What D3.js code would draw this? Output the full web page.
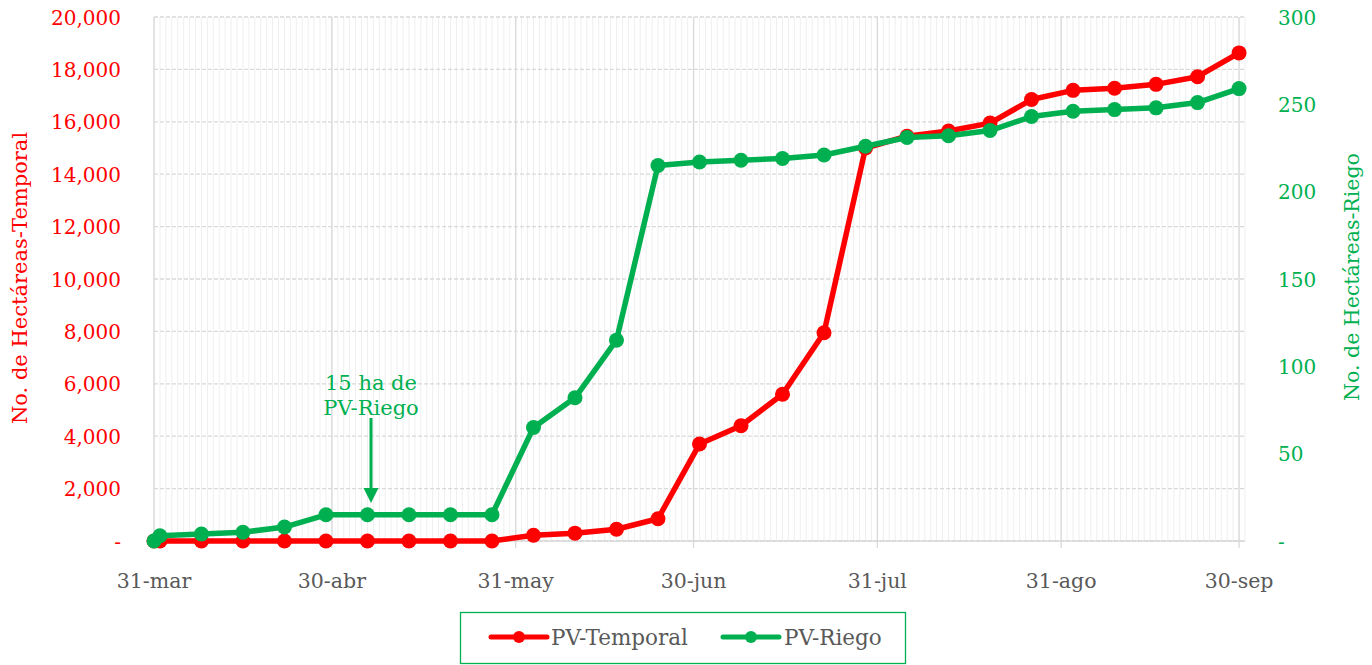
<!DOCTYPE html>
<html><head><meta charset="utf-8">
<script src="https://cdn.jsdelivr.net/npm/d3@7/dist/d3.min.js"></script>
<style>body{margin:0;background:#fff}svg{display:block}text{font-family:"DejaVu Serif",serif}</style>
</head><body>
<svg id="c" width="1372" height="665"></svg>
<script>
const dates = ["2024-03-31","2024-04-01","2024-04-08","2024-04-15","2024-04-22","2024-04-29","2024-05-06","2024-05-13","2024-05-20","2024-05-27","2024-06-03","2024-06-10","2024-06-17","2024-06-24","2024-07-01","2024-07-08","2024-07-15","2024-07-22","2024-07-29","2024-08-05","2024-08-12","2024-08-19","2024-08-26","2024-09-02","2024-09-09","2024-09-16","2024-09-23","2024-09-30"];
const temporal = [0,0,0,0,0,0,0,0,0,0,220,300,450,850,3700,4400,5600,7950,15000,15450,15650,15950,16850,17200,17280,17430,17720,18630];
const riego = [0,3,4,5,8,15,15,15,15,15,65,82,115,215,217,218,219,221,226,231,232,235,243,246,247,248,251,259];
const leftTicks = [0,2000,4000,6000,8000,10000,12000,14000,16000,18000,20000];
const rightTicks = [0,50,100,150,200,250,300];
const xTickDates = ["2024-03-31","2024-04-30","2024-05-31","2024-06-30","2024-07-31","2024-08-31","2024-09-30"];
const xTickLabels = ["31-mar","30-abr","31-may","30-jun","31-jul","31-ago","30-sep"];
const seriesNames = ["PV-Temporal","PV-Riego"];
const RED = "#FF0000", GREEN = "#00B050", GRAY = "#595959";

const parse = d3.utcParse("%Y-%m-%d");
const svg = d3.select("#c");
const L = 154, R = 1245, T = 17, B = 541;
const x = d3.scaleUtc().domain([parse("2024-03-31"), parse("2024-10-01")]).range([L, R]);
const yL = d3.scaleLinear().domain([0,20000]).range([B,T]);
const yR = d3.scaleLinear().domain([0,300]).range([B,T]);

// minor daily gridlines
const days = d3.utcDay.range(parse("2024-03-31"), parse("2024-10-02"));
svg.append("g").selectAll("line").data(days).join("line")
  .attr("x1", d=>x(d)).attr("x2", d=>x(d)).attr("y1", T).attr("y2", B)
  .attr("stroke", "#efefef").attr("stroke-width", 1);
// horizontal dashed gridlines
svg.append("g").selectAll("line").data(leftTicks).join("line")
  .attr("x1", L).attr("x2", R).attr("y1", d=>yL(d)).attr("y2", d=>yL(d))
  .attr("stroke", "#d9d9d9").attr("stroke-width", 1.3).attr("stroke-dasharray", "4,2");
// major vertical gridlines
const xt = xTickDates.map(parse);
svg.append("g").selectAll("line").data(xt).join("line")
  .attr("x1", d=>x(d)).attr("x2", d=>x(d)).attr("y1", T).attr("y2", B+7)
  .attr("stroke", "#d9d9d9").attr("stroke-width", 1.3);
// bottom axis line
svg.append("line").attr("x1", L).attr("x2", R).attr("y1", B).attr("y2", B).attr("stroke", "#d9d9d9").attr("stroke-width", 1.3);

// x labels
svg.append("g").selectAll("text").data(xt).join("text")
  .attr("x", d=>x(d)).attr("y", 588).attr("text-anchor", "middle")
  .attr("fill", GRAY).attr("font-size", 20.5).text((d,i)=>xTickLabels[i]);
// left ticks
const fmt = d3.format(",");
svg.append("g").selectAll("text").data(leftTicks).join("text")
  .attr("x", 121).attr("y", d=>yL(d)+7.5).attr("text-anchor", "end")
  .attr("fill", RED).attr("font-size", 20).text(d=> d===0 ? "-" : fmt(d));
// right ticks
svg.append("g").selectAll("text").data(rightTicks).join("text")
  .attr("x", 1278).attr("y", d=>yR(d)+7.5).attr("text-anchor", "start")
  .attr("fill", GREEN).attr("font-size", 20).text(d=> d===0 ? "-" : d);
// axis titles
svg.append("text").attr("transform", "translate(27,278) rotate(-90)").attr("text-anchor", "middle")
  .attr("fill", RED).attr("font-size", 21).text("No. de Hectáreas-Temporal");
svg.append("text").attr("transform", "translate(1359,277) rotate(-90)").attr("text-anchor", "middle")
  .attr("fill", GREEN).attr("font-size", 20.5).text("No. de Hectáreas-Riego");

// series
const dd = dates.map(parse);
const lineL = d3.line().x((d,i)=>x(dd[i])).y(d=>yL(d));
const lineR = d3.line().x((d,i)=>x(dd[i])).y(d=>yR(d));
function drawSeries(vals, gen, y, color){
  svg.append("path").datum(vals).attr("d", gen).attr("fill","none").attr("stroke", color)
    .attr("stroke-width", 5.5).attr("stroke-linejoin","round").attr("stroke-linecap","round");
  svg.append("g").selectAll("circle").data(vals).join("circle")
    .attr("cx",(d,i)=>x(dd[i])).attr("cy", d=>y(d)).attr("r", 7.5).attr("fill", color);
}
drawSeries(temporal, lineL, yL, RED);
drawSeries(riego, lineR, yR, GREEN);

// annotation
const ax = 371;
svg.append("text").attr("x", ax).attr("y", 390).attr("text-anchor","middle").attr("fill", GREEN).attr("font-size", 21).text("15 ha de");
svg.append("text").attr("x", ax).attr("y", 415).attr("text-anchor","middle").attr("fill", GREEN).attr("font-size", 21).text("PV-Riego");
svg.append("line").attr("x1", ax).attr("x2", ax).attr("y1", 418).attr("y2", 492).attr("stroke", GREEN).attr("stroke-width", 3);
svg.append("path").attr("d", `M${ax-7.5},488 L${ax+7.5},488 L${ax},503 Z`).attr("fill", GREEN);

// legend
svg.append("rect").attr("x", 460.5).attr("y", 612.5).attr("width", 445).attr("height", 51).attr("fill","none").attr("stroke", GREEN).attr("stroke-width", 1.3);
const leg = [{c:RED, x0:491, tx:551, n:seriesNames[0]},{c:GREEN, x0:723, tx:784, n:seriesNames[1]}];
leg.forEach(l=>{
  svg.append("line").attr("x1", l.x0).attr("x2", l.x0+56).attr("y1", 637).attr("y2", 637).attr("stroke", l.c).attr("stroke-width", 5).attr("stroke-linecap","round");
  svg.append("circle").attr("cx", l.x0+28).attr("cy", 637).attr("r", 6).attr("fill", l.c);
  svg.append("text").attr("x", l.tx).attr("y", 645).attr("fill", GRAY).attr("font-size", 21.5).text(l.n);
});
</script>
</body></html>
